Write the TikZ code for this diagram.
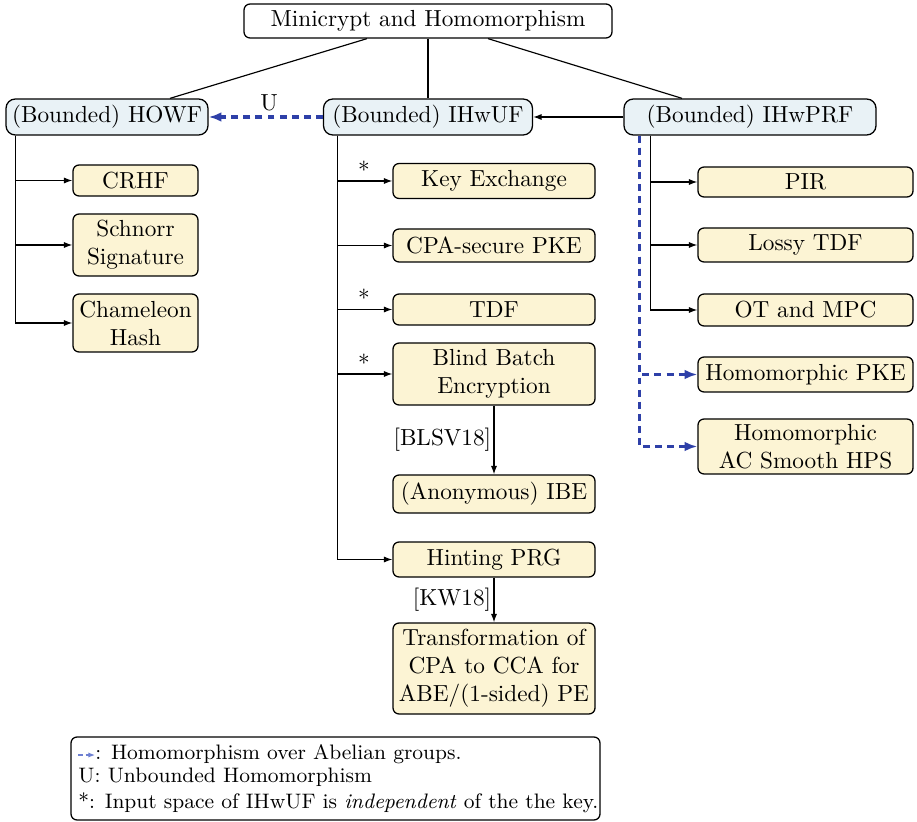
\documentclass[tikz,border=0pt]{standalone}
\usetikzlibrary{arrows.meta,calc}
\newcommand\pxu{0.43pt}
\definecolor{boxfill}{RGB}{252,244,212}
\definecolor{topfill}{RGB}{233,242,246}
\definecolor{homblue}{RGB}{46,64,168}
\definecolor{legblue}{RGB}{110,128,210}
\tikzset{
  box/.style={draw, rounded corners=2.6pt, fill=boxfill, align=center, inner sep=0pt, line width=0.55pt},
  topbox/.style={draw, rounded corners=2.6pt, fill=white, align=center, inner sep=0pt, line width=0.55pt},
  levelbox/.style={draw, rounded corners=4pt, fill=topfill, align=center, inner sep=0pt, line width=0.55pt},
  link/.style={line width=0.5pt},
  implies/.style={line width=0.5pt, -{Latex[length=3.6pt,width=2.6pt]}},
  homo/.style={homblue, line width=1.3pt, dash pattern=on 3pt off 2.2pt, -{Latex[length=5.5pt,width=4.2pt]}},
  tag/.style={inner sep=1pt, text=black, font=\fontsize{10}{12}\selectfont},
  legendtext/.style={anchor=base west, inner sep=0pt, font=\fontsize{9}{11}\selectfont},
}
\begin{document}
\begin{tikzpicture}[x=\pxu,y=-\pxu, font=\fontsize{10}{12}\selectfont]
\useasboundingbox (0,0) rectangle (917,822);

% root and the three primitives
\node[topbox, minimum width=368*\pxu, minimum height=34*\pxu] (top) at (428,21) {Minicrypt and Homomorphism};
\node[levelbox, minimum width=202*\pxu, minimum height=36*\pxu] (howf) at (107,117) {(Bounded) HOWF};
\node[levelbox, minimum width=209*\pxu, minimum height=36*\pxu] (ihwuf) at (428,117) {(Bounded) IHwUF};
\node[levelbox, minimum width=252*\pxu, minimum height=36*\pxu] (ihwprf) at (750,117) {(Bounded) IHwPRF};

\draw[link] ([xshift=-61*\pxu]top.south) -- ([xshift=63*\pxu]howf.north);
\draw[link] (top.south) -- (ihwuf.north);
\draw[link] ([xshift=60*\pxu]top.south) -- ([xshift=-68*\pxu]ihwprf.north);

\draw[implies] (ihwprf.west) -- (ihwuf.east);
\draw[homo] (ihwuf.west) -- node[above, tag, pos=0.47, yshift=1pt] {U} (howf.east);

% HOWF applications
\node[box, minimum width=125*\pxu, minimum height=31*\pxu] (crhf) at (135.5,180.5) {CRHF};
\node[box, minimum width=125*\pxu, minimum height=62*\pxu] (schnorr) at (135.5,245) {Schnorr\\Signature};
\node[box, minimum width=125*\pxu, minimum height=58*\pxu] (cham) at (135.5,323) {Chameleon\\Hash};

\coordinate (howftrunk) at ([xshift=10*\pxu]howf.south west);
\draw[implies] (howftrunk) |- (crhf.west);
\draw[implies] (howftrunk) |- (schnorr.west);
\draw[implies] (howftrunk) |- (cham.west);

% IHwUF applications
\node[box, minimum width=202*\pxu, minimum height=35*\pxu] (kex) at (494,181) {Key Exchange};
\node[box, minimum width=202*\pxu, minimum height=33*\pxu] (cpa) at (494,245.5) {CPA-secure PKE};
\node[box, minimum width=202*\pxu, minimum height=31*\pxu] (tdf) at (494,309.5) {TDF};
\node[box, minimum width=202*\pxu, minimum height=62*\pxu] (bbe) at (494,374) {Blind Batch\\Encryption};
\node[box, minimum width=202*\pxu, minimum height=38*\pxu] (ibe) at (494,494) {(Anonymous) IBE};
\node[box, minimum width=202*\pxu, minimum height=35*\pxu] (hprg) at (494,559.5) {Hinting PRG};
\node[box, minimum width=202*\pxu, minimum height=91*\pxu] (trans) at (494,668.5) {Transformation of\\CPA to CCA for\\ABE/(1-sided) PE};

\coordinate (uftrunk) at ([xshift=15*\pxu]ihwuf.south west);
\draw[implies] (uftrunk) |- node[pos=0.74, above, tag] {*} (kex.west);
\draw[implies] (uftrunk) |- (cpa.west);
\draw[implies] (uftrunk) |- node[pos=0.74, above, tag] {*} (tdf.west);
\draw[implies] (uftrunk) |- node[pos=0.74, above, tag] {*} (bbe.west);
\draw[implies] (uftrunk) |- (hprg.west);
\draw[implies] (bbe.south) -- node[left, tag] {[BLSV18]} (ibe.north);
\draw[implies] (hprg.south) -- node[left, tag] {[KW18]} (trans.north);

% IHwPRF applications
\node[box, minimum width=215*\pxu, minimum height=30*\pxu] (pir) at (805.5,182) {PIR};
\node[box, minimum width=215*\pxu, minimum height=34*\pxu] (lossy) at (805.5,245) {Lossy TDF};
\node[box, minimum width=215*\pxu, minimum height=32*\pxu] (ot) at (805.5,310) {OT and MPC};
\node[box, minimum width=215*\pxu, minimum height=35*\pxu] (hpke) at (805.5,374.5) {Homomorphic PKE};
\node[box, minimum width=215*\pxu, minimum height=55*\pxu] (hps) at (805.5,446.5) {Homomorphic\\AC Smooth HPS};

\coordinate (prftrunk) at ([xshift=27*\pxu]ihwprf.south west);
\draw[implies] (prftrunk) |- (pir.west);
\draw[implies] (prftrunk) |- (lossy.west);
\draw[implies] (prftrunk) |- (ot.west);

\coordinate (homtrunk) at ([xshift=16*\pxu]ihwprf.south west);
\draw[homo] (homtrunk) |- (hpke.west);
\draw[homo] (homtrunk) |- (hps.west);

% legend
\node[topbox, minimum width=529*\pxu, minimum height=83*\pxu] (legend) at (335.5,778.5) {};
\coordinate (legA) at (78,755);
\coordinate (legB) at (95,755);
\draw[legblue, line width=0.5pt, dash pattern=on 2pt off 1.3pt, -{Latex[length=2.8pt,width=2.2pt]}] (legA) -- (legB);
\node[legendtext] (leg1) at (95,759) {: Homomorphism over Abelian groups.};
\node[legendtext] (leg2) at (78,782) {U: Unbounded Homomorphism};
\node[legendtext] (leg3) at (78,808) {*: Input space of IHwUF is \emph{independent} of the the key.};
\end{tikzpicture}
\end{document}
